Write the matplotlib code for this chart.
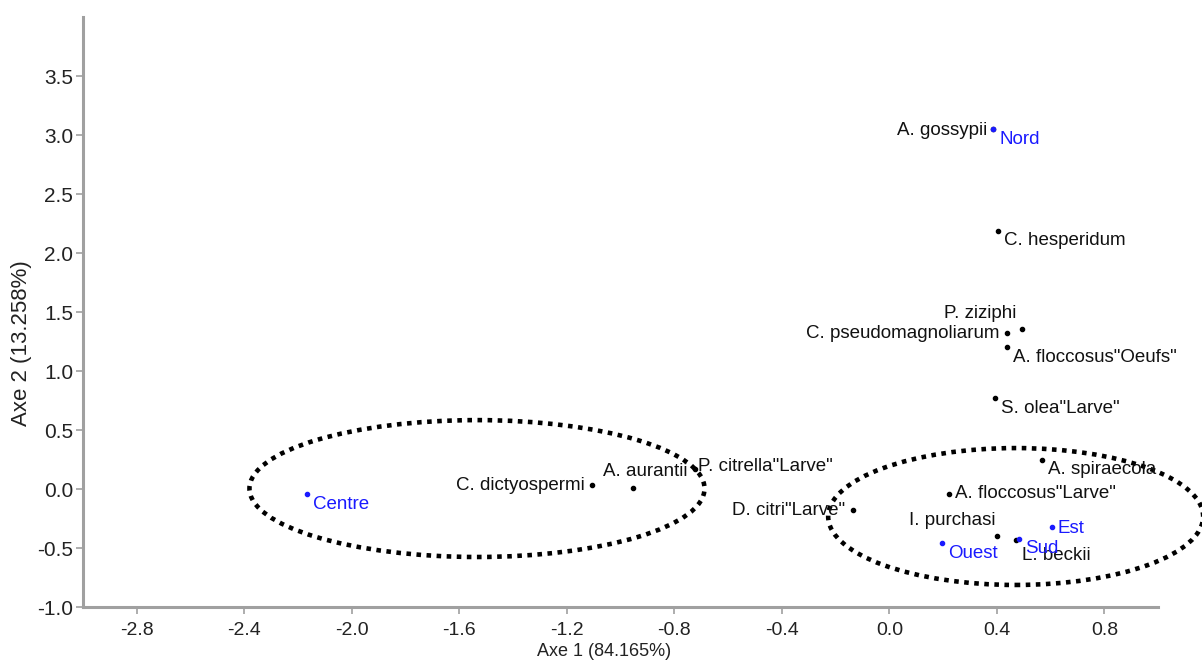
import matplotlib.pyplot as plt
from matplotlib.patches import Ellipse

# coordonnees des variables (especes) sur les axes 1 et 2
especes = ['A. gossypii', 'C. hesperidum', 'P. ziziphi', 'C. pseudomagnoliarum',
           'A. floccosus"Oeufs"', 'S. olea"Larve"', 'A. spiraecola',
           'A. floccosus"Larve"', 'I. purchasi', 'L. beckii', 'D. citri"Larve"',
           'P. citrella"Larve"', 'A. aurantii', 'C. dictyospermi']
esp_x = [0.385, 0.405, 0.494, 0.438, 0.438, 0.394, 0.567, 0.223, 0.401, 0.472,
         -0.135, -0.724, -0.954, -1.106]
esp_y = [3.05, 2.19, 1.36, 1.32, 1.20, 0.77, 0.25, -0.04, -0.40, -0.43,
         -0.18, 0.17, 0.01, 0.03]

# coordonnees des regions
regions = ['Nord', 'Centre', 'Ouest', 'Sud', 'Est']
reg_x = [0.387, -2.166, 0.197, 0.483, 0.604]
reg_y = [3.05, -0.04, -0.46, -0.42, -0.32]

# groupes entoures
groupes_cx = [-1.534, 0.470]
groupes_cy = [0.004, -0.233]
groupes_w = [1.693, 1.395]
groupes_h = [1.16, 1.16]

xticks = [-2.8, -2.4, -2.0, -1.6, -1.2, -0.8, -0.4, 0.0, 0.4, 0.8]
yticks = [-1.0, -0.5, 0.0, 0.5, 1.0, 1.5, 2.0, 2.5, 3.0, 3.5]

# placement des etiquettes (decalage en pixels, alignement)
pos_esp = {
    'A. gossypii': (-6, -1, 'right'),
    'C. hesperidum': (6, -10, 'left'),
    'P. ziziphi': (-42, 15, 'center'),
    'C. pseudomagnoliarum': (-8, 0, 'right'),
    'A. floccosus"Oeufs"': (6, -10, 'left'),
    'S. olea"Larve"': (6, -10, 'left'),
    'A. spiraecola': (6, -10, 'left'),
    'A. floccosus"Larve"': (6, 0, 'left'),
    'I. purchasi': (-2, 16, 'right'),
    'L. beckii': (6, -16, 'left'),
    'D. citri"Larve"': (-8, 0, 'right'),
    'P. citrella"Larve"': (3, 2, 'left'),
    'A. aurantii': (12, 16, 'center'),
    'C. dictyospermi': (-7, 0, 'right'),
}
pos_reg = {
    'Nord': (6, -10), 'Centre': (6, -11), 'Ouest': (6, -10),
    'Sud': (6, -10), 'Est': (6, -2),
}

bleu = '#1a1aff'
gris = '#a0a0a0'
police = 'Liberation Sans'

fig = plt.figure(figsize=(12.02, 6.64), dpi=100)
ax = fig.add_axes([0.069, 0.0858, 0.8945, 0.8886])

ax.plot(esp_x, esp_y, 'o', color='black', ms=3, zorder=3)
ax.plot(reg_x, reg_y, 'o', color=bleu, ms=3, zorder=4)

for nom, x, y in zip(especes, esp_x, esp_y):
    dx, dy, ha = pos_esp[nom]
    ax.annotate(nom, (x, y), xytext=(dx, dy), textcoords='offset pixels',
                ha=ha, va='center', fontsize=13.5, color='#111111',
                family=police, zorder=5)

for nom, x, y in zip(regions, reg_x, reg_y):
    dx, dy = pos_reg[nom]
    ax.annotate(nom, (x, y), xytext=(dx, dy), textcoords='offset pixels',
                ha='left', va='center', fontsize=13.5, color=bleu,
                family=police, zorder=5)

for cx, cy, w, h in zip(groupes_cx, groupes_cy, groupes_w, groupes_h):
    e = Ellipse((cx, cy), w, h, fill=False, edgecolor='black', lw=3.3,
                linestyle=(0, (1, 1.2)), clip_on=False, zorder=2)
    ax.add_patch(e)

ax.set_xlim(-3.0, 1.0)
ax.set_ylim(-1.0, 4.0)
ax.set_xticks(xticks)
ax.set_yticks(yticks)
ax.set_xticklabels([f'{t:.1f}' for t in xticks], family=police, fontsize=14,
                   color='#222222')
ax.set_yticklabels([f'{t:.1f}' for t in yticks], family=police, fontsize=15,
                   color='#222222')
ax.tick_params(axis='both', length=5, width=1.2, color=gris, pad=2)
ax.tick_params(axis='x', pad=6)

for s in ['top', 'right']:
    ax.spines[s].set_visible(False)
for s in ['left', 'bottom']:
    ax.spines[s].set_color(gris)
    ax.spines[s].set_linewidth(2.2)

ax.set_xlabel('Axe 1 (84.165%)', family=police, fontsize=13, color='#222222')
ax.set_ylabel('Axe 2 (13.258%)', family=police, fontsize=16, color='#222222')
ax.xaxis.set_label_coords(0.485, -0.061)
ax.yaxis.set_label_coords(-0.047, 0.447)

fig.savefig('out.png', dpi=100)
